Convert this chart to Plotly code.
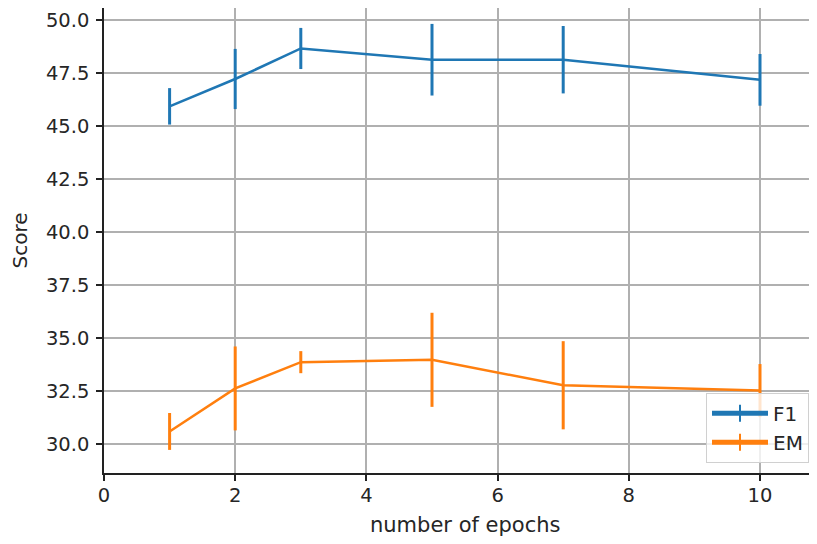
import plotly.graph_objects as go

epochs = [1, 2, 3, 5, 7, 10]
f1_mean = [45.93, 47.22, 48.66, 48.13, 48.13, 47.18]
f1_err = [0.86, 1.42, 0.97, 1.69, 1.59, 1.22]
em_mean = [30.59, 32.62, 33.86, 33.97, 32.77, 32.52]
em_err = [0.87, 1.98, 0.52, 2.22, 2.08, 1.25]

series_names = ["F1", "EM"]
colors = ["#1f77b4", "#ff7f0e"]
x_ticks = [0, 2, 4, 6, 8, 10]
y_ticks = [30.0, 32.5, 35.0, 37.5, 40.0, 42.5, 45.0, 47.5, 50.0]

FONT = "DejaVu Sans"
TXT = "#262626"
FS = 19.5

W = 817
PX_PER_UNIT = 65.6
x_right = (W - 96) / PX_PER_UNIT

fig = go.Figure()
for name, ys, es, c in zip(series_names, [f1_mean, em_mean], [f1_err, em_err], colors):
    fig.add_trace(go.Scatter(
        x=epochs, y=ys, mode="lines", name=name, showlegend=False,
        line=dict(color=c, width=2.5),
        error_y=dict(type="data", array=es, visible=True, width=0, thickness=3, color=c),
    ))
    # legend entry mimicking the errorbar "+" glyph
    fig.add_trace(go.Scatter(
        x=[None], y=[None], mode="lines+markers", name=name,
        line=dict(color=c, width=3.5),
        marker=dict(symbol="line-ns-open", size=20, line=dict(color=c, width=3.5)),
    ))

fig.update_layout(
    width=W, height=528,
    margin=dict(l=96, r=0, t=0, b=63, autoexpand=False),
    paper_bgcolor="white", plot_bgcolor="white",
    font=dict(family=FONT, size=FS, color=TXT),
    showlegend=True,
    legend=dict(
        x=(706 - 104) / (W - 96), xanchor="left", y=0.022, yanchor="bottom",
        bgcolor="rgba(255,255,255,0.8)", bordercolor="#d0d0d0", borderwidth=1,
        font=dict(family=FONT, size=20, color=TXT),
        tracegroupgap=0, itemsizing="constant", itemwidth=56,
    ),
    xaxis=dict(
        range=[0, x_right], tickvals=x_ticks, ticktext=[str(v) for v in x_ticks],
        showgrid=True, gridcolor="#b0b0b0", gridwidth=1.5,
        showline=True, linecolor="#222", linewidth=1.5, mirror=True,
        ticks="outside", ticklen=6, tickwidth=1.5, tickcolor="#222",
        zeroline=False, automargin=False, ticklabelstandoff=-2,
        tickfont=dict(family=FONT, size=FS, color=TXT),
    ),
    yaxis=dict(
        range=[28.63, 50.57], tickvals=y_ticks, ticktext=[f"{v:.1f}" for v in y_ticks],
        showgrid=True, gridcolor="#b0b0b0", gridwidth=1.5,
        showline=True, linecolor="#222", linewidth=1.5, mirror=False,
        ticks="outside", ticklen=6, tickwidth=1.5, tickcolor="#222",
        zeroline=False, automargin=False, ticklabelstandoff=3,
        tickfont=dict(family=FONT, size=FS, color=TXT),
        title=dict(text="Score", font=dict(family=FONT, size=20, color=TXT), standoff=18),
    ),
    annotations=[dict(
        text="number of epochs", xref="paper", yref="paper",
        x=(465 - 104) / (W - 96), y=0, yshift=-66, xanchor="center", yanchor="bottom",
        showarrow=False, font=dict(family=FONT, size=21, color=TXT),
    )],
)

fig.write_html("out.html")
